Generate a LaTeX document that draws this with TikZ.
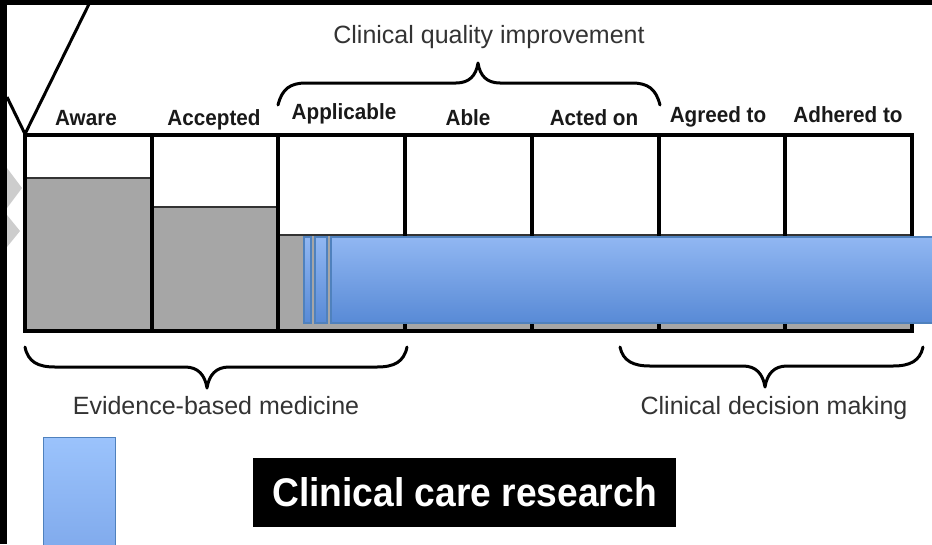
\documentclass[tikz,border=0pt]{standalone}
\usepackage{fontspec}
\setmainfont{Liberation Sans}
\newfontfamily\hdrfont[FakeStretch=0.94]{Liberation Sans}
\newfontfamily\capfont[FakeStretch=0.93]{Liberation Sans}
\definecolor{levelgray}{RGB}{166,166,166}
\definecolor{bartop}{RGB}{145,183,242}
\definecolor{barbottom}{RGB}{88,138,214}
\definecolor{barblue}{RGB}{79,129,189}
\definecolor{keytop}{RGB}{155,195,252}
\definecolor{keybottom}{RGB}{128,170,236}
\definecolor{chevgray}{RGB}{205,205,205}
\begin{document}
\begin{tikzpicture}[x=1pt,y=-1pt,
  gridline/.style={line width=4pt, draw=black, line join=miter},
  level/.style={fill=levelgray, draw=black!80, line width=1.2pt},
  hdr/.style={anchor=base, inner sep=0pt, text=black!90,
    font=\hdrfont\bfseries\fontsize{22}{24}\selectfont},
  spanlabel/.style={anchor=base, inner sep=0pt, text=black!80,
    font=\fontsize{25}{28}\selectfont},
  brace/.style={line width=3pt, line cap=round, line join=round},
  bluebar/.style={draw=barblue, line width=1.2pt, top color=bartop, bottom color=barbottom},
]
\useasboundingbox (0,0) rectangle (932,544);
% page and frame
\fill[white] (0,0) rectangle (932,544);
\fill[black] (0,0) rectangle (932,5);
\fill[black] (0,0) rectangle (7,544);
% faint chevrons at the left edge
\fill[chevgray] (7,168) -- (22,188) -- (7,208) -- cycle;
\fill[chevgray] (7,215) -- (20,231) -- (7,247) -- cycle;

% column boundaries
\foreach \n/\x in {0/25,1/152,2/278,3/405,4/532,5/659,6/785,7/912}
  \coordinate (c\n) at (\x,135);

% levels reached in each column
\draw[level] (25,178) rectangle (152,331);
\draw[level] (152,207) rectangle (278,331);
\draw[level] (278,235) rectangle (912,331);

% table grid
\draw[gridline] (25,135) rectangle (912,331);
\foreach \n in {1,...,6}
  \draw[gridline] (c\n) -- ++(0,196);

% leading lines into the table corner
\coordinate (apex) at (25,134);
\coordinate (lead1) at (7,97);
\coordinate (lead2) at (91,0);
\draw[line width=3pt] (lead1) -- (apex) -- (lead2);

% clinical care research bars
\begin{scope}
  \clip (0,0) rectangle (932,544);
  \draw[bluebar] (304,237) rectangle (311,323);
  \draw[bluebar] (315,237) rectangle (327,323);
  \draw[bluebar] (331,237) rectangle (945,323);
\end{scope}

% column headers
\node[hdr] (aware)    at (86,125)  {Aware};
\node[hdr] (accepted) at (214,125) {Accepted};
\node[hdr] (applic)   at (344,119) {Applicable};
\node[hdr] (able)     at (468,125) {Able};
\node[hdr] (acted)    at (594,125) {Acted on};
\node[hdr] (agreed)   at (718,122) {Agreed to};
\node[hdr] (adhered)  at (848,122) {Adhered to};

% brace over the middle columns
\coordinate (tq1) at (278,105);
\coordinate (tqtip) at (478,63);
\coordinate (tq2) at (660,105);
\draw[brace] (tq1) .. controls (282,89) and (290,83) .. (306,83) -- (456,83)
  .. controls (469,83) and (476,76) .. (tqtip)
  .. controls (480,76) and (487,83) .. (500,83) -- (632,83)
  .. controls (648,83) and (656,89) .. (tq2);
\node[spanlabel] (cqi) at (489,43) {Clinical quality improvement};

% brace under the first three columns
\coordinate (eb1) at (25,347);
\coordinate (ebtip) at (207,388);
\coordinate (eb2) at (407,347);
\draw[brace] (eb1) .. controls (28,362) and (38,367) .. (55,367) -- (185,367)
  .. controls (198,367) and (205,375) .. (ebtip)
  .. controls (209,375) and (216,367) .. (229,367) -- (377,367)
  .. controls (394,367) and (404,362) .. (eb2);
\node[spanlabel] (ebm) at (216,414) {Evidence-based medicine};

% brace under the last columns
\coordinate (cd1) at (620,347);
\coordinate (cdtip) at (765,387);
\coordinate (cd2) at (923,347);
\draw[brace] (cd1) .. controls (623,361) and (633,366) .. (650,366) -- (743,366)
  .. controls (756,366) and (763,374) .. (cdtip)
  .. controls (767,374) and (774,366) .. (787,366) -- (893,366)
  .. controls (910,366) and (920,361) .. (cd2);
\node[spanlabel] (cdm) at (774,414) {Clinical decision making};

% key
\draw[draw=barblue, line width=1pt, top color=keytop, bottom color=keybottom]
  (43,437) rectangle (115,550);
\node[fill=black, text=white, inner sep=0pt, minimum width=423pt, minimum height=69pt,
  font=\capfont\bfseries\fontsize{40}{44}\selectfont] (ccr) at (464.5,492.5)
  {Clinical care research};
\end{tikzpicture}
\end{document}
